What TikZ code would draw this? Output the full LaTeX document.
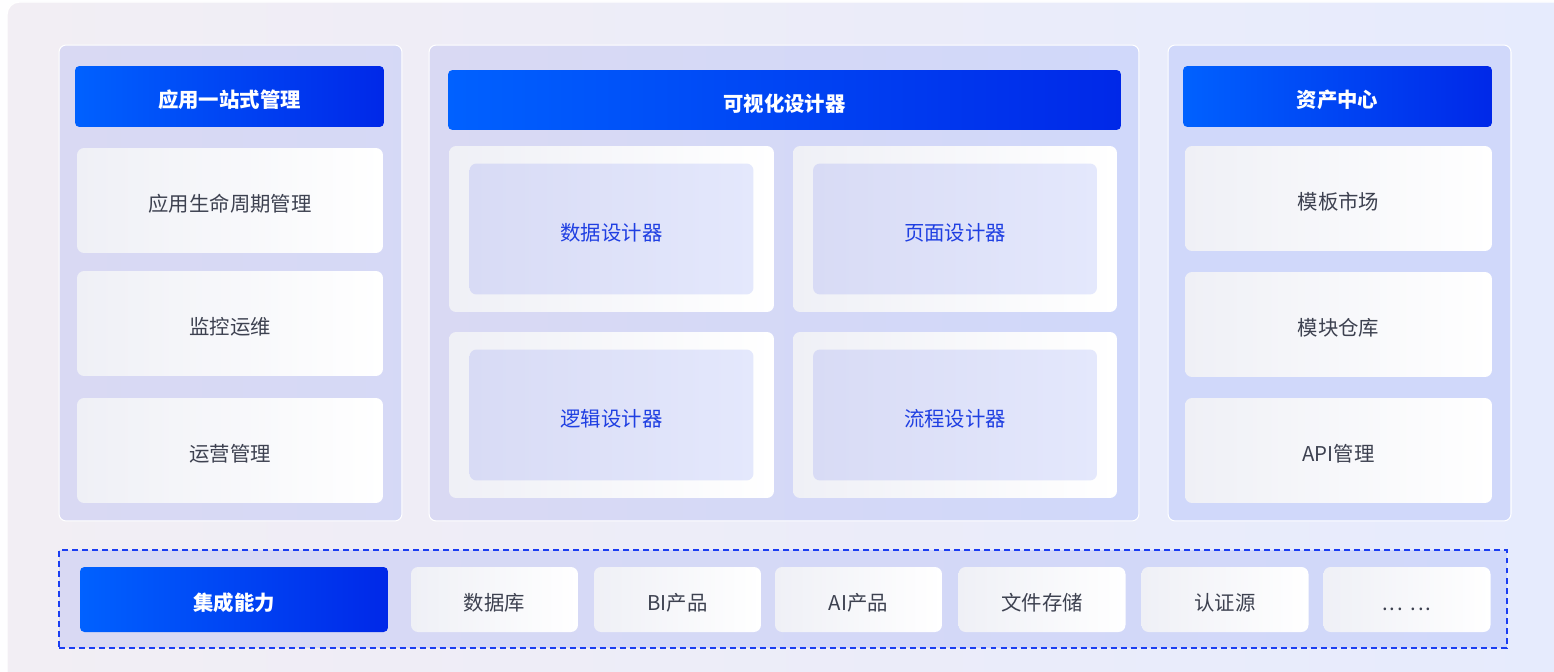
\documentclass[tikz,border=0pt]{standalone}
\usepackage{fontspec}
\setmainfont{Noto Sans CJK SC}
\usepackage{tikz}
\usetikzlibrary{positioning,backgrounds}
\definecolor{BgLeft}{HTML}{F2EEF4}
\definecolor{BgRight}{HTML}{E6EBFD}
\definecolor{PanelLeft}{HTML}{D9D9F3}
\definecolor{PanelRight}{HTML}{D0D8FA}
\definecolor{HeadLeft}{HTML}{0061FF}
\definecolor{HeadRight}{HTML}{0028E8}
\definecolor{CardLeft}{HTML}{EFF0F6}
\definecolor{InnerLeft}{HTML}{D8DBF5}
\definecolor{InnerRight}{HTML}{E4E8FC}
\definecolor{InkBlue}{HTML}{1F3FE2}
\definecolor{InkGray}{HTML}{3D4150}
\definecolor{DashBlue}{HTML}{1A3CF2}

\begin{document}
\begin{tikzpicture}[x=0.02cm,y=-0.02cm,
  label text/.style={font=\fontsize{11.6}{14}\selectfont,text height=12.6pt,text depth=0pt},
  panel/.style={draw=white,line width=0.6pt,rounded corners=4pt,inner sep=0pt,outer sep=0pt,
    minimum width=6.86cm,minimum height=9.52cm,shading=axis,left color=PanelLeft,right color=PanelLeft!60!PanelRight},
  head/.style={label text,rounded corners=2.5pt,inner sep=0pt,minimum width=6.18cm,minimum height=1.22cm,
    shading=axis,left color=HeadLeft,right color=HeadRight,text=white,font=\fontsize{11.6}{14}\selectfont\bfseries},
  card/.style={label text,rounded corners=4pt,inner sep=0pt,minimum width=6.12cm,minimum height=2.1cm,
    shading=axis,left color=CardLeft,right color=white,text=InkGray},
  outer/.style={rounded corners=4pt,inner sep=0pt,minimum width=6.5cm,minimum height=3.32cm,
    shading=axis,left color=CardLeft,right color=white},
  inner/.style={label text,rounded corners=4pt,inner sep=0pt,minimum width=5.68cm,minimum height=2.62cm,
    shading=axis,left color=InnerLeft,right color=InnerRight,text=InkBlue},
  tool/.style={card,minimum width=3.34cm,minimum height=1.3cm}
]
\useasboundingbox (0,0) rectangle (1554,672);
% background
\fill[white!97!BgLeft] (0,0) rectangle (1554,672);
\begin{scope}
\clip (0,0) rectangle (1554,672);
\draw[draw=white,line width=0.8pt,rounded corners=7pt,shading=axis,left color=BgLeft,right color=BgRight]
  (7,2) rectangle (1570,690);
\end{scope}

% left column
\node[panel] (appPanel) at (230.5,283) {};
\node[head] (appHead) at (229.5,96.5) {应用一站式管理};
\node[card] (lifecycle) at (230,200.5) {应用生命周期管理};
\node[card] (monitor) at (230,323.5) {监控运维};
\node[card] (operation) at (230,450.5) {运营管理};

% middle column
\node[panel,minimum width=14.2cm,right color=PanelRight] (designPanel) at (784,283) {};
\node[head,minimum width=13.46cm,minimum height=1.2cm] (designHead) at (784.5,100) {可视化设计器};
\node[outer] (dataOuter) at (611.5,229) {};
\node[outer,minimum width=6.48cm] (pageOuter) at (955,229) {};
\node[outer] (logicOuter) at (611.5,415) {};
\node[outer,minimum width=6.48cm] (flowOuter) at (955,415) {};
\node[inner] (dataDesign) at (dataOuter) {数据设计器};
\node[inner] (pageDesign) at (pageOuter) {页面设计器};
\node[inner] (logicDesign) at (logicOuter) {逻辑设计器};
\node[inner] (flowDesign) at (flowOuter) {流程设计器};

% right column
\node[panel,left color=PanelRight,right color=PanelRight] (assetPanel) at (1339.5,283) {};
\node[head] (assetHead) at (1337.5,96.5) {资产中心};
\node[card,minimum width=6.14cm] (template) at (1338.5,198.5) {模板市场};
\node[card,minimum width=6.14cm] (module) at (1338.5,324.5) {模块仓库};
\node[card,minimum width=6.14cm] (api) at (1338.5,450.5) {API管理};

% integration row
\node[draw=DashBlue,line width=0.85pt,dash pattern=on 3.4pt off 2.3pt,inner sep=0pt,
  minimum width=28.96cm,minimum height=1.96cm,shading=axis,left color=PanelLeft,right color=PanelRight] (integration) at (783,599) {};
\node[head,minimum width=6.16cm,minimum height=1.3cm] (integrationHead) at (234,599.5) {集成能力};
\node[tool] (database) at (494.5,599.5) {数据库};
\node[tool] (bi) at (677.5,599.5) {BI产品};
\node[tool] (ai) at (858.5,599.5) {AI产品};
\node[tool] (storage) at (1042,599.5) {文件存储};
\node[tool] (auth) at (1225,599.5) {认证源};
\node[tool] (more) at (1407,599.5) {.\kern1pt.\kern1pt.\hspace{4.5pt}.\kern1pt.\kern1pt.};
\end{tikzpicture}
\end{document}
